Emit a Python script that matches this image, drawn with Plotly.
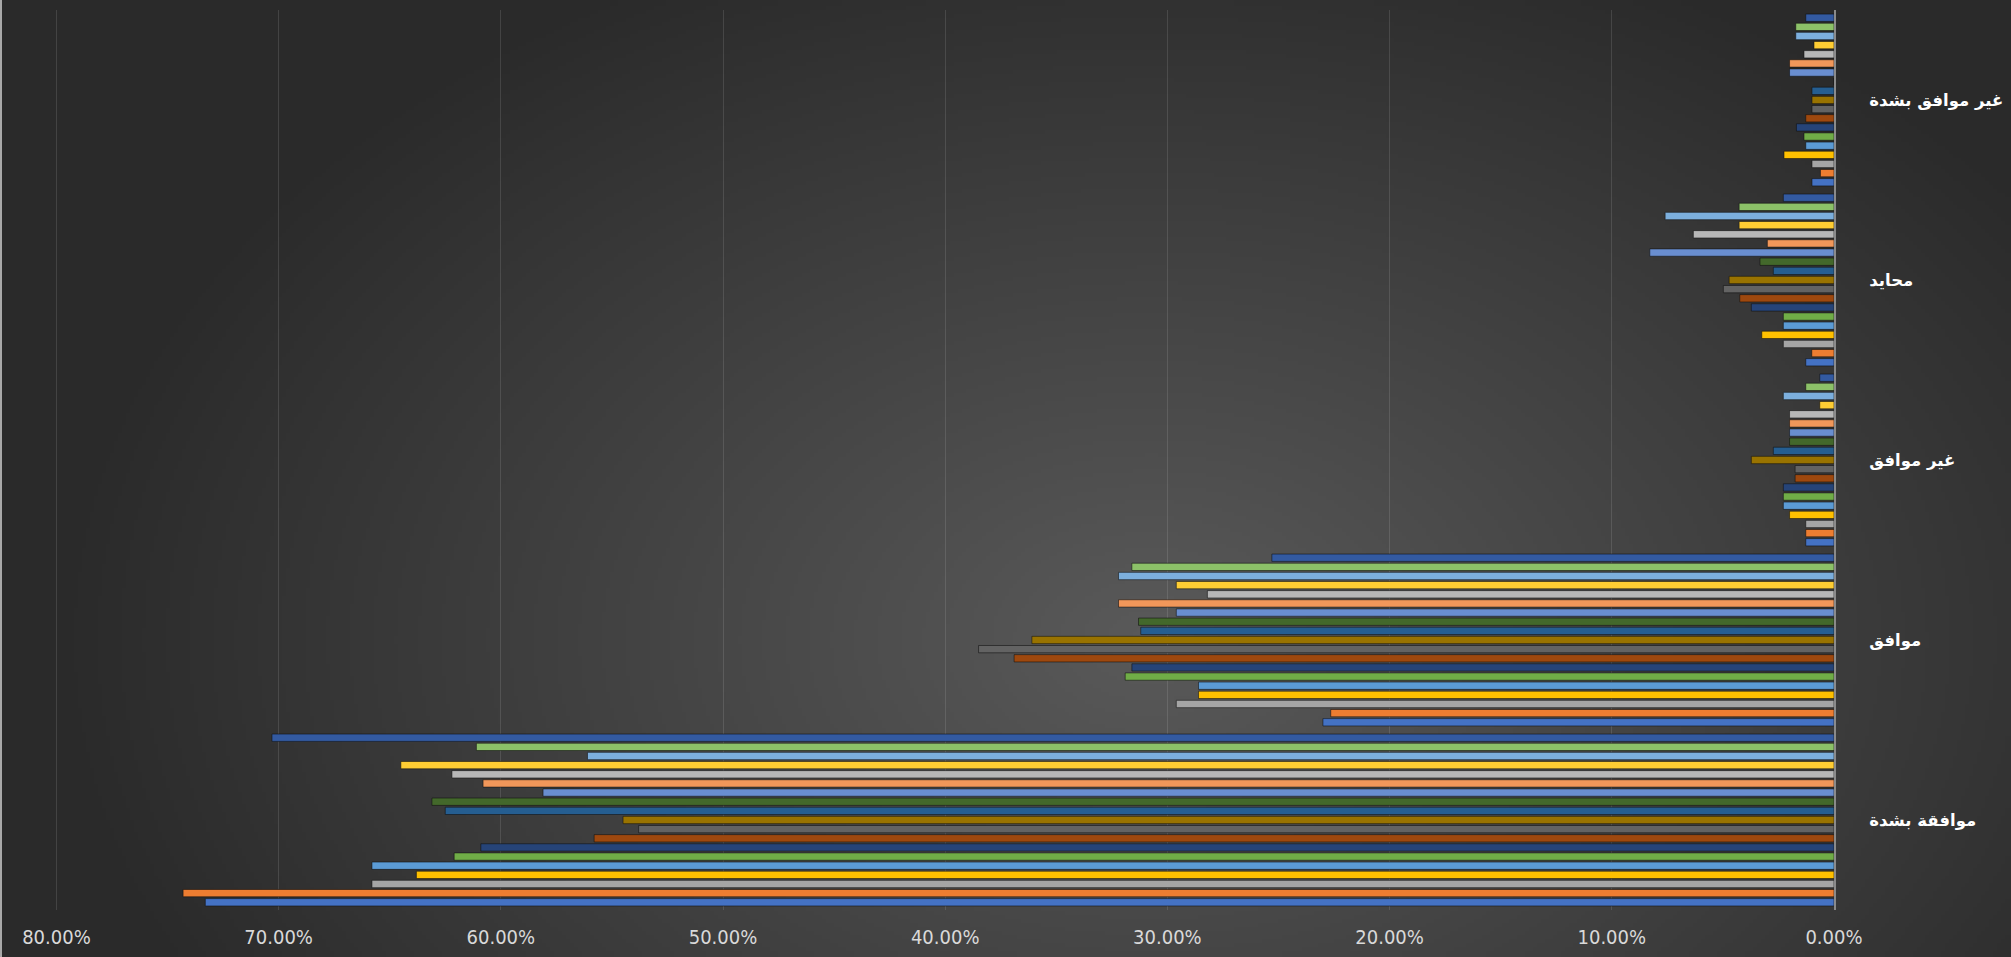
import base64
import struct
import zlib

import numpy as np
import plotly.graph_objects as go

# ---------------- data (percent) ----------------
categories = ["موافقة بشدة", "موافق", "غير موافق", "محايد", "غير موافق بشدة"]
series_names = [f"سلسلة {i}" for i in range(1, 20)]

strongly_agree = [73.3, 74.3, 65.8, 63.8, 65.8, 62.1, 60.9, 55.8, 53.8, 54.5,
                  62.5, 63.1, 58.1, 60.8, 62.2, 64.5, 56.1, 61.1, 70.3]
agree = [23.0, 22.65, 29.6, 28.6, 28.6, 31.9, 31.6, 36.9, 38.5, 36.1,
         31.2, 31.3, 29.6, 32.2, 28.2, 29.6, 32.2, 31.6, 25.3]
disagree = [1.27, 1.27, 1.27, 2.0, 2.28, 2.28, 2.28, 1.75, 1.75, 3.72,
            2.73, 2.0, 2.0, 2.0, 2.0, 0.64, 2.28, 1.27, 0.64]
neutral = [1.27, 1.0, 2.28, 3.25, 2.28, 2.28, 3.72, 4.24, 4.98, 4.72,
           2.73, 3.33, 8.29, 3.0, 6.33, 4.27, 7.6, 4.27, 2.28]
strongly_disagree = [0.99, 0.61, 0.99, 2.25, 1.27, 1.35, 1.69, 1.27, 0.99, 0.99,
                     0.99, 0.0, 2.0, 2.0, 1.35, 0.9, 1.72, 1.72, 1.27]

colors = ["#4472C4", "#ED7D31", "#A5A5A5", "#FFC000", "#5B9BD5", "#70AD47",
          "#264478", "#9E480E", "#636363", "#997300", "#255E91", "#43682B",
          "#698ED0", "#F1975A", "#B7B7B7", "#FFCD33", "#7CAFDD", "#8CC168",
          "#335AA1"]

x_ticks = [0.0, 0.1, 0.2, 0.3, 0.4, 0.5, 0.6, 0.7, 0.8]

# ---------------- background gradient (style only) ----------------
W, H = 2011, 957
gw, gh = 503, 240
yy, xx = np.mgrid[0:gh, 0:gw]
px = (xx + 0.5) * W / gw
py = (yy + 0.5) * H / gh
r = np.sqrt(((px - 1150) / 1100.0) ** 2 + ((py - 640) / 750.0) ** 2)
lo, hi = 42, 90
v = lo + (hi - lo) * np.clip(1 - r, 0, 1)
img = np.clip(v, 0, 255).astype(np.uint8)


def png_gray(a):
    h, w = a.shape
    raw = b"".join(b"\x00" + a[i].tobytes() for i in range(h))

    def chunk(t, d):
        c = struct.pack(">I", len(d)) + t + d
        return c + struct.pack(">I", zlib.crc32(t + d) & 0xFFFFFFFF)

    return (b"\x89PNG\r\n\x1a\n"
            + chunk(b"IHDR", struct.pack(">IIBBBBB", w, h, 8, 0, 0, 0, 0))
            + chunk(b"IDAT", zlib.compress(raw, 9))
            + chunk(b"IEND", b""))


bg_uri = "data:image/png;base64," + base64.b64encode(png_gray(img)).decode()

# ---------------- figure ----------------
ML, MR, MT, MB = 52, 177, 10, 47
pw, ph = W - ML - MR, H - MT - MB

fig = go.Figure()
for i in range(19):
    vals = [strongly_agree[i], agree[i], disagree[i], neutral[i], strongly_disagree[i]]
    fig.add_trace(go.Bar(
        y=categories,
        x=[val / 100 for val in vals],
        orientation="h",
        name=series_names[i],
        marker=dict(color=colors[i], line=dict(color="rgba(15,15,15,0.55)", width=1)),
    ))

fig.update_layout(
    width=W, height=H,
    margin=dict(l=ML, r=MR, t=MT, b=MB, pad=0, autoexpand=False),
    paper_bgcolor="#2d2d2d",
    plot_bgcolor="rgba(0,0,0,0)",
    barmode="group",
    bargap=0.035,
    bargroupgap=0.2,
    showlegend=False,
    images=[dict(
        source=bg_uri, xref="paper", yref="paper",
        x=-ML / pw, y=1 + MT / ph, sizex=W / pw, sizey=H / ph,
        xanchor="left", yanchor="top", sizing="stretch", layer="below",
    )],
    shapes=[dict(
        type="line", xref="paper", yref="paper",
        x0=(-ML + 1) / pw, x1=(-ML + 1) / pw, y0=-MB / ph, y1=1 + MT / ph,
        line=dict(color="#a8a8a8", width=2),
    )],
    xaxis=dict(
        range=[0.802, 0], tickvals=x_ticks, tickformat=".2%",
        automargin=False,
        showgrid=True, gridcolor="rgba(220,220,220,0.14)", gridwidth=1,
        zeroline=False, showline=False,
        ticks="outside", ticklen=9, tickcolor="rgba(0,0,0,0)",
        tickfont=dict(family="Liberation Sans Narrow, Arial Narrow, DejaVu Sans Condensed, sans-serif",
                      size=20, color="#d9d9d9"),
    ),
    yaxis=dict(
        type="category", categoryorder="array", categoryarray=categories,
        side="right", showgrid=False, zeroline=False, automargin=False,
        showline=True, linecolor="#8a8a8a", linewidth=2,
        ticks="outside", ticklen=30, tickcolor="rgba(0,0,0,0)",
        tickfont=dict(family="DejaVu Sans, sans-serif", size=16.5, color="#ffffff", weight="bold"),
    ),
)

fig.write_html("out.html")
